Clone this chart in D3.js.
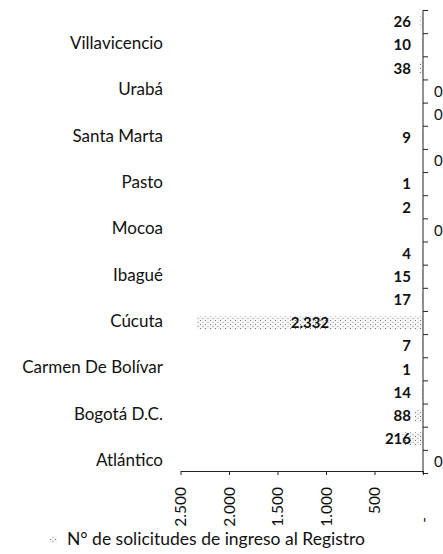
<!DOCTYPE html>
<html>
    <head>
        <meta charset="utf-8">
        <title>Solicitudes de ingreso al Registro</title>
        <script src="https://d3js.org/d3.v7.min.js" charset="utf-8"></script>
        <style>
            body { margin: 0; background: #fff; }
            text { font-family: Lato, "Open Sans", sans-serif; fill: #111; }
        </style>
    </head>
    <body>
        <script>
            // categories in chart order (first one is drawn at the bottom)
            // only every second name is printed in the picture; the hidden ones are guesses
            var categories = ["Atlántico", "Barrancabermeja", "Bogotá D.C.", "Cali", "Carmen De Bolívar",
                              "Cartagena", "Cúcuta", "Florencia", "Ibagué", "Medellín",
                              "Mocoa", "Neiva", "Pasto", "Quibdó", "Santa Marta",
                              "Tumaco", "Urabá", "Valledupar", "Villavicencio", "Yopal"];
            var solicitudes = [0, 216, 88, 14, 1,
                               7, 2332, 17, 15, 4,
                               0, 2, 1, 0, 9,
                               0, 0, 38, 10, 26];
            var xTicks = [0, 500, 1000, 1500, 2000, 2500];
            var seriesName = "N° de solicitudes de ingreso al Registro";

            var width = 443, height = 554;
            var esCO = d3.formatLocale({decimal: ",", thousands: ".", grouping: [3], currency: ["$", ""]});
            var fmt = esCO.format(",d");

            var svg = d3.select("body").append("svg")
                .attr("width", width)
                .attr("height", height);

            var defs = svg.append("defs");
            var pat = defs.append("pattern")
                .attr("id", "dots")
                .attr("patternUnits", "userSpaceOnUse")
                .attr("width", 5).attr("height", 4);
            pat.append("rect").attr("width", 5).attr("height", 4).attr("fill", "#f6f6f6");
            pat.append("rect").attr("x", 0).attr("y", 0).attr("width", 1).attr("height", 1).attr("fill", "#777");
            pat.append("rect").attr("x", 2.5).attr("y", 2).attr("width", 1).attr("height", 1).attr("fill", "#999");

            var x = d3.scaleLinear()
                .domain([0, 2500])
                .range([423, 180.5]);

            var y = d3.scaleBand()
                .domain(categories.slice().reverse())
                .range([10.5, 473.5])
                .paddingInner(0.44)
                .paddingOuter(0.22);

            var step = y.step();

            // bars
            svg.selectAll("rect.bar")
                .data(categories)
                .enter()
              .append("rect")
                .attr("class", "bar")
                .attr("x", function(d, i) { return x(solicitudes[i]); })
                .attr("y", function(d) { return y(d); })
                .attr("width", function(d, i) { return x(0) - x(solicitudes[i]); })
                .attr("height", y.bandwidth())
                .attr("fill", "url(#dots)");

            // bottom axis
            var xAxis = d3.axisBottom(x)
                .tickValues(xTicks)
                .tickSizeInner(4)
                .tickSizeOuter(0)
                .tickFormat(function(d) { return d === 0 ? "-" : fmt(d); });

            var gx = svg.append("g")
                .attr("transform", "translate(0,471)")
                .call(xAxis);
            gx.select(".domain").attr("stroke", "#222");
            gx.selectAll(".tick line").attr("stroke", "#222");
            gx.selectAll(".tick text")
                .attr("transform", "rotate(-90)")
                .attr("text-anchor", "end")
                .attr("x", function(d) { return d === 0 ? -46 : -16; })
                .attr("y", 0)
                .attr("dy", "0.35em")
                .style("font-size", "15.5px")
                .style("font-family", "Lato, 'Open Sans', sans-serif")
                .attr("fill", "#111");

            // vertical axis at zero, ticks between categories
            var boundaries = d3.range(categories.length + 1).map(function(i) { return 10.5 + i * step; });
            svg.append("line")
                .attr("x1", x(0)).attr("x2", x(0))
                .attr("y1", 10.5).attr("y2", 473.5)
                .attr("stroke", "#222");
            svg.selectAll("line.ytick")
                .data(boundaries)
                .enter()
              .append("line")
                .attr("class", "ytick")
                .attr("x1", x(0)).attr("x2", x(0) + 5)
                .attr("y1", function(d) { return d; })
                .attr("y2", function(d) { return d; })
                .attr("stroke", "#222");

            // category names, every second one
            svg.selectAll("text.cat")
                .data(categories.filter(function(d, i) { return i % 2 === 0; }))
                .enter()
              .append("text")
                .attr("class", "cat")
                .attr("x", 163)
                .attr("y", function(d) { return y(d) + y.bandwidth() / 2 - 2; })
                .attr("dy", "0.35em")
                .attr("text-anchor", "end")
                .style("font-size", "17px")
                .text(function(d) { return d; });

            // data labels
            svg.selectAll("text.val")
                .data(categories)
                .enter()
              .append("text")
                .attr("class", "val")
                .attr("y", function(d) { return y(d) + y.bandwidth() / 2; })
                .attr("dy", "0.35em")
                .style("font-size", "15px")
                .style("font-weight", "bold")
                .each(function(d, i) {
                    var v = solicitudes[i];
                    var t = d3.select(this).text(fmt(v));
                    var w = x(0) - x(v);
                    if (v === 0) {
                        t.attr("x", x(0) + 11).attr("text-anchor", "start").style("font-weight", "normal").style("font-size", "15px");
                    } else if (w > 80) {
                        t.attr("x", x(v) + w / 2).attr("text-anchor", "middle");
                    } else {
                        t.attr("x", x(0) - 12).attr("text-anchor", "end");
                    }
                });

            // legend
            var legend = svg.append("g").attr("transform", "translate(50,539)");
            legend.append("rect")
                .attr("x", 0).attr("y", -3)
                .attr("width", 7).attr("height", 7)
                .attr("fill", "url(#dots)");
            legend.append("text")
                .attr("x", 17)
                .attr("y", 0)
                .attr("dy", "0.35em")
                .style("font-size", "17.5px")
                .text(seriesName);
        </script>
    </body>
</html>
